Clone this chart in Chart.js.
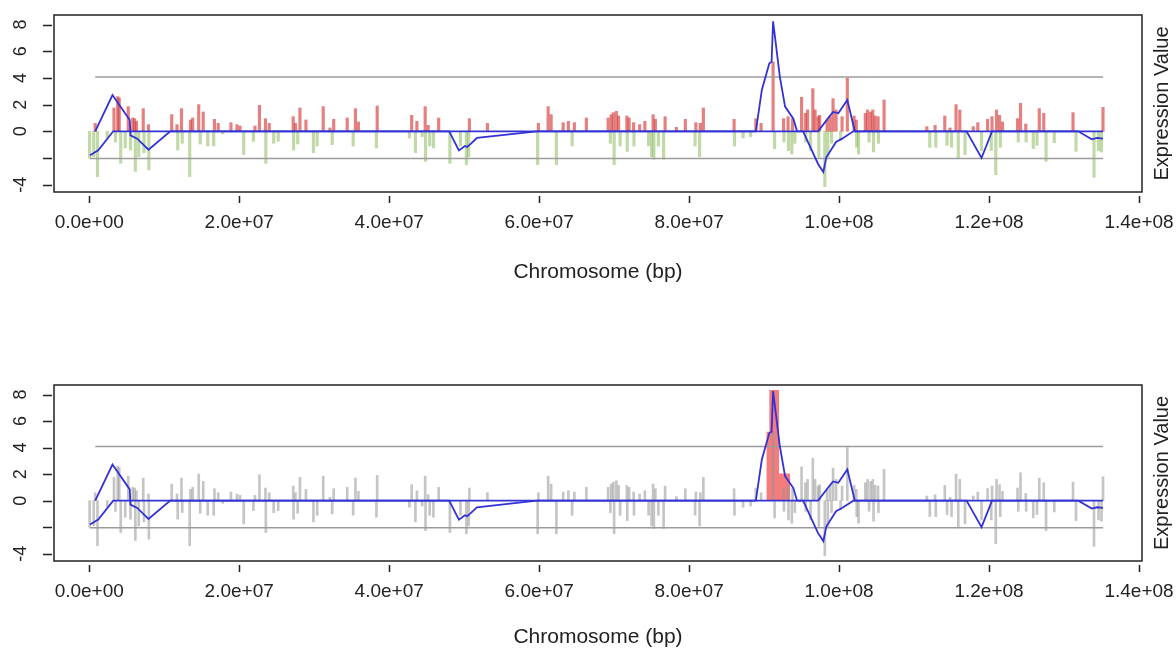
<!DOCTYPE html>
<html>
<head>
<meta charset="utf-8">
<title>Expression along chromosome</title>
<script src="https://cdn.jsdelivr.net/npm/chart.js@4.4.1/dist/chart.umd.min.js"></script>
<style>
  html, body { margin: 0; padding: 0; background: #fff; overflow: hidden; }
  canvas { position: absolute; left: 0; }
  #top { top: 0; }
  #bottom { top: 370px; }
</style>
</head>
<body>
<canvas id="top" width="1176" height="300"></canvas>
<canvas id="bottom" width="1176" height="300"></canvas>
<script>
// --- data (positions in Mb, values = expression) ---
const genePos = [
  0.05, 0.6, 0.8, 1.1, 2.4, 3.3, 3.5, 3.8, 4.0, 4.2, 4.8, 5.2, 5.5, 5.8, 6.05, 6.15, 6.3, 6.6, 7.2, 7.3, 7.9, 7.95,
  11.0, 11.7, 11.8, 12.3, 12.4, 13.4, 13.5, 13.8, 14.6, 14.8, 15.2, 15.8, 16.6, 16.7, 17.2, 17.8, 18.9, 19.7,
  20.1, 20.6, 21.9, 22.1, 22.7, 23.5, 23.55, 24.0, 24.6, 25.2, 27.2, 27.25, 27.5, 27.8, 28.1, 28.9, 29.9,
  30.4, 31.2, 32.1, 32.4, 32.6, 34.4, 35.2, 35.5, 35.9, 38.3, 38.4,
  42.7, 43.0, 43.5, 43.7, 44.4, 44.8, 44.85, 45.2, 45.4, 45.9, 46.6, 48.1, 49.5, 50.3, 50.6, 50.7, 53.1,
  59.8, 59.9, 61.2, 61.6, 62.3, 63.2, 63.9, 64.4, 64.7, 66.3, 69.2, 69.5, 69.6, 69.9,
  70.0, 70.3, 70.6, 70.8, 71.7, 71.75, 72.0, 72.6, 72.65, 73.4, 74.1, 74.6, 75.0, 75.2, 75.3, 75.5, 75.9,
  76.6, 76.8, 78.3, 79.5, 80.8, 80.9, 81.4, 81.5, 81.9, 86.0, 86.05, 87.2, 88.2, 88.9, 89.6,
  91.2, 91.4, 92.6, 92.65, 93.2, 93.25, 93.7, 93.8, 94.1, 95.0, 95.5, 95.55, 95.8, 96.2, 96.5, 96.8,
  97.2, 97.3, 97.4, 98.1, 98.4, 98.5, 98.8, 99.0, 99.2, 99.6, 100.2, 100.4, 101.1, 102.0, 102.3, 102.35,
  102.6, 103.5, 103.8, 104.0, 104.2, 104.5, 104.6, 104.8, 105.2, 105.25, 106.0,
  111.7, 112.1, 112.8, 112.9, 114.1, 114.4, 114.8, 115.0, 115.6, 115.9, 116.1, 116.8, 117.9, 118.5,
  119.0, 119.8, 120.3, 120.4, 120.9, 121.0, 121.4, 121.5, 121.8, 123.8, 123.9, 124.2, 124.9, 124.95,
  125.9, 126.4, 126.7, 127.3, 127.6, 128.7, 131.2, 131.6, 134.0, 134.6, 135.0, 135.2
];
const geneVal = [
  -2.0, -1.9, 0.6, -3.4, -0.5, 1.75, -0.8, 2.6, 2.5, -2.4, -1.25, 1.85, -1.4, 1.0, 0.95, -3.0, 0.75, -1.9, 1.7, -1.6, 0.5, -2.9,
  1.25, 0.5, -1.4, 1.7, -0.9, -3.4, 0.85, 1.0, 2.0, -0.95, 1.45, -1.1, -1.1, 0.9, 0.6, -0.2, 0.65, 0.5,
  0.4, -1.75, -0.75, 0.4, 1.95, 0.95, -2.4, 0.6, -0.9, -0.75, 1.1, -1.4, 0.6, -0.95, 1.75, 0.85, -1.6,
  -1.1, 1.85, 0.25, -1.0, 0.9, 1.0, -1.1, 1.7, 0.7, -1.25, 1.9,
  -0.5, 1.2, -1.6, 0.75, -0.4, 1.85, -2.25, 0.45, -1.1, -1.25, 1.0, -2.4, -1.1, -2.5, -1.9, 0.95, 0.6,
  -2.5, 0.6, 1.85, 1.25, -2.5, 0.65, 0.75, -1.1, 0.65, 1.0, 1.0, -0.9, 1.25, 1.4,
  -2.5, 1.5, 1.15, -1.1, 1.15, -1.5, 1.0, 0.65, -1.1, 0.5, 0.75, -1.1, -1.9, 1.25, -2.1, 0.9, -1.1,
  -2.1, 1.1, 0.3, 0.9, -1.1, 0.65, -1.9, 0.6, 1.75, 0.9, -1.1, -0.5, -0.4, 0.95, 0.6,
  5.2, -1.3, 0.95, -0.8, 1.1, -1.45, -1.7, 0.95, -0.9, 2.55, 1.35, -0.8, 1.6, -1.45, 3.2, 1.6,
  1.1, -1.95, 1.2, -4.15, 0.85, -1.95, 1.1, -0.9, 2.45, 1.6, -0.7, 1.1, 4.0, 1.15, 0.85, -1.2,
  -1.7, 1.35, 1.6, -0.8, 1.45, 1.6, -1.55, 1.15, 1.1, -0.9, 2.35,
  0.35, -1.2, 0.45, -1.2, 1.15, -1.05, 0.25, -1.2, 2.0, -2.05, 1.6, -1.75, 0.35, 0.65,
  -1.45, 0.9, -1.45, 1.1, -3.25, 1.6, 1.2, -1.2, 0.7, 0.95, -0.8, 2.1, 0.55, -0.8,
  -1.3, -1.05, 1.7, 1.35, -2.25, -0.85, 1.4, -1.5, -3.45, -1.45, -1.55, 1.8
];

// smoothed profile, upper trace
const upperX = [0.8, 3.1, 5.4, 5.5, 6.4, 7.9, 10.8, 88.9, 89.7, 90.7, 91.0, 91.2, 92.1, 92.8, 93.9, 94.4,
  97.2, 98.7, 99.2, 99.9, 101.1, 102.1, 135.2];
const upperY = [0, 2.72, 0.85, -0.3, -0.55, -1.38, 0, 0, 3.1, 5.1, 5.2, 8.25, 4.1, 1.85, 0.95, 0,
  0, 1.1, 1.45, 1.35, 2.35, 0, 0];

// smoothed profile, lower trace
const lowerX = [0.1, 1.2, 3.2, 48.0, 49.3, 50.1, 50.4, 50.8, 51.7, 59.7, 95.2, 97.2, 97.9, 98.3, 99.6,
  100.4, 101.9, 117.0, 119.0, 120.4, 131.9, 133.7, 134.4, 135.2];
const lowerY = [-1.8, -1.43, 0, 0, -1.43, -1.1, -1.17, -0.98, -0.5, 0, 0, -2.45, -3.05, -1.95, -0.8,
  -0.55, 0, 0, -2.0, 0, 0, -0.6, -0.5, -0.55];

// cut-off lines
const upperCut = 4.08, upperCutFrom = 0.8;
const lowerCut = -2.04, lowerCutFrom = 0.05;
const cutTo = 135.2;

// significant region marked in the lower panel (step heights)
const regionX = [90.3, 90.7, 92.0, 93.5];
const regionY = [5.2, 8.35, 2.05, 2.05];

const xTicks = [0, 20, 40, 60, 80, 100, 120, 140];
const yTicks = [-4, -2, 0, 2, 4, 6, 8];
const yTickLabels = ['-4', '', '0', '2', '4', '6', '8'];

const MB = 1e6;
const FONT = '"Liberation Sans", Arial, Helvetica, sans-serif';
const INK = '#222';
const BLUE = '#3232d6';

function sci(bp) {
  if (bp === 0) return '0.0e+00';
  const e = Math.floor(Math.log10(bp) + 1e-9);
  return (bp / Math.pow(10, e)).toFixed(1) + 'e+' + String(e).padStart(2, '0');
}

const pts = (xs, ys) => xs.map((x, i) => ({ x: x, y: ys[i] }));

// box, tick marks, rotated y labels and right-hand title (R style)
const framePlugin = {
  id: 'frame',
  afterDraw(chart) {
    const { ctx, chartArea: a } = chart;
    const x = chart.scales.x, y = chart.scales.y;
    ctx.save();
    ctx.strokeStyle = INK;
    ctx.lineWidth = 1.5;
    ctx.strokeRect(a.left, a.top, a.right - a.left, a.bottom - a.top);
    ctx.beginPath();
    xTicks.forEach(v => {
      const px = Math.round(x.getPixelForValue(v)) + 0.5;
      ctx.moveTo(px, a.bottom + 4);
      ctx.lineTo(px, a.bottom + 11);
    });
    yTicks.forEach(v => {
      const py = Math.round(y.getPixelForValue(v)) + 0.5;
      ctx.moveTo(a.left - 11, py);
      ctx.lineTo(a.left - 2, py);
    });
    ctx.stroke();

    ctx.fillStyle = INK;
    ctx.textAlign = 'center';
    ctx.textBaseline = 'middle';
    ctx.font = '18px ' + FONT;
    yTicks.forEach((v, i) => {
      if (!yTickLabels[i]) return;
      ctx.save();
      ctx.translate(21, y.getPixelForValue(v));
      ctx.rotate(-Math.PI / 2);
      ctx.fillText(yTickLabels[i], 0, 0);
      ctx.restore();
    });
    ctx.font = '20px ' + FONT;
    ctx.translate(1162, (a.top + a.bottom) / 2);
    ctx.rotate(-Math.PI / 2);
    ctx.fillText('Expression Value', 0, 0);
    ctx.restore();
  }
};

function lineSet(data, color, width, order) {
  return { type: 'line', data: data, borderColor: color, borderWidth: width,
           pointRadius: 0, tension: 0, fill: false, order: order };
}

function commonSets() {
  return [
    lineSet(pts(upperX, upperY), BLUE, 1.8, 0),
    lineSet(pts(lowerX, lowerY), BLUE, 1.8, 0),
    lineSet([{ x: upperCutFrom, y: upperCut }, { x: cutTo, y: upperCut }], '#9c9c9c', 1.5, 1),
    lineSet([{ x: lowerCutFrom, y: lowerCut }, { x: cutTo, y: lowerCut }], '#9c9c9c', 1.5, 1)
  ];
}

function panel(id, datasets, boxBottom, titlePad) {
  const H = 300;
  return new Chart(document.getElementById(id), {
    type: 'bar',
    data: { datasets: datasets },
    plugins: [framePlugin],
    options: {
      responsive: false,
      animation: false,
      layout: { padding: { top: 15, right: 34, left: 0, bottom: 0 } },
      plugins: { legend: { display: false }, tooltip: { enabled: false } },
      scales: {
        x: {
          type: 'linear', min: -4.7, max: 140.4, offset: false,
          grid: { display: false, drawTicks: false },
          border: { display: false },
          afterBuildTicks: s => { s.ticks = xTicks.map(v => ({ value: v })); },
          afterFit: s => { s.height = H - boxBottom; s.paddingLeft = 0; s.paddingRight = 0; },
          ticks: { autoSkip: false, maxRotation: 0, padding: 19, color: INK,
                   font: { family: FONT, size: 19 }, callback: v => sci(v * MB) },
          title: { display: true, text: 'Chromosome (bp)', color: INK,
                   font: { family: FONT, size: 21 }, padding: { top: 0, bottom: titlePad } }
        },
        y: {
          type: 'linear', min: -4.55, max: 8.72,
          grid: { display: false }, border: { display: false },
          ticks: { display: false },
          afterFit: s => { s.width = 54; s.paddingTop = 0; s.paddingBottom = 0; }
        }
      }
    }
  });
}

// top: up / down regulated genes
const topSets = commonSets().concat([{
  type: 'bar',
  data: pts(genePos, geneVal),
  backgroundColor: geneVal.map(v => v >= 0 ? 'rgba(214, 60, 60, 0.65)' : 'rgba(130, 180, 80, 0.5)'),
  barThickness: 2.5,
  order: 2
}]);
panel('top', topSets, 192, 15.4);

// bottom: all genes in grey, significant region in red
const bottomSets = commonSets().concat([{
  type: 'bar',
  data: pts(genePos, geneVal),
  backgroundColor: 'rgba(150, 150, 150, 0.55)',
  barThickness: 2,
  order: 2
}, {
  type: 'line',
  data: pts(regionX, regionY),
  stepped: true,
  fill: 'origin',
  backgroundColor: 'rgba(244, 110, 110, 0.9)',
  borderWidth: 0,
  pointRadius: 0,
  order: 3
}]);
panel('bottom', bottomSets, 191, 20.4);
</script>
</body>
</html>
